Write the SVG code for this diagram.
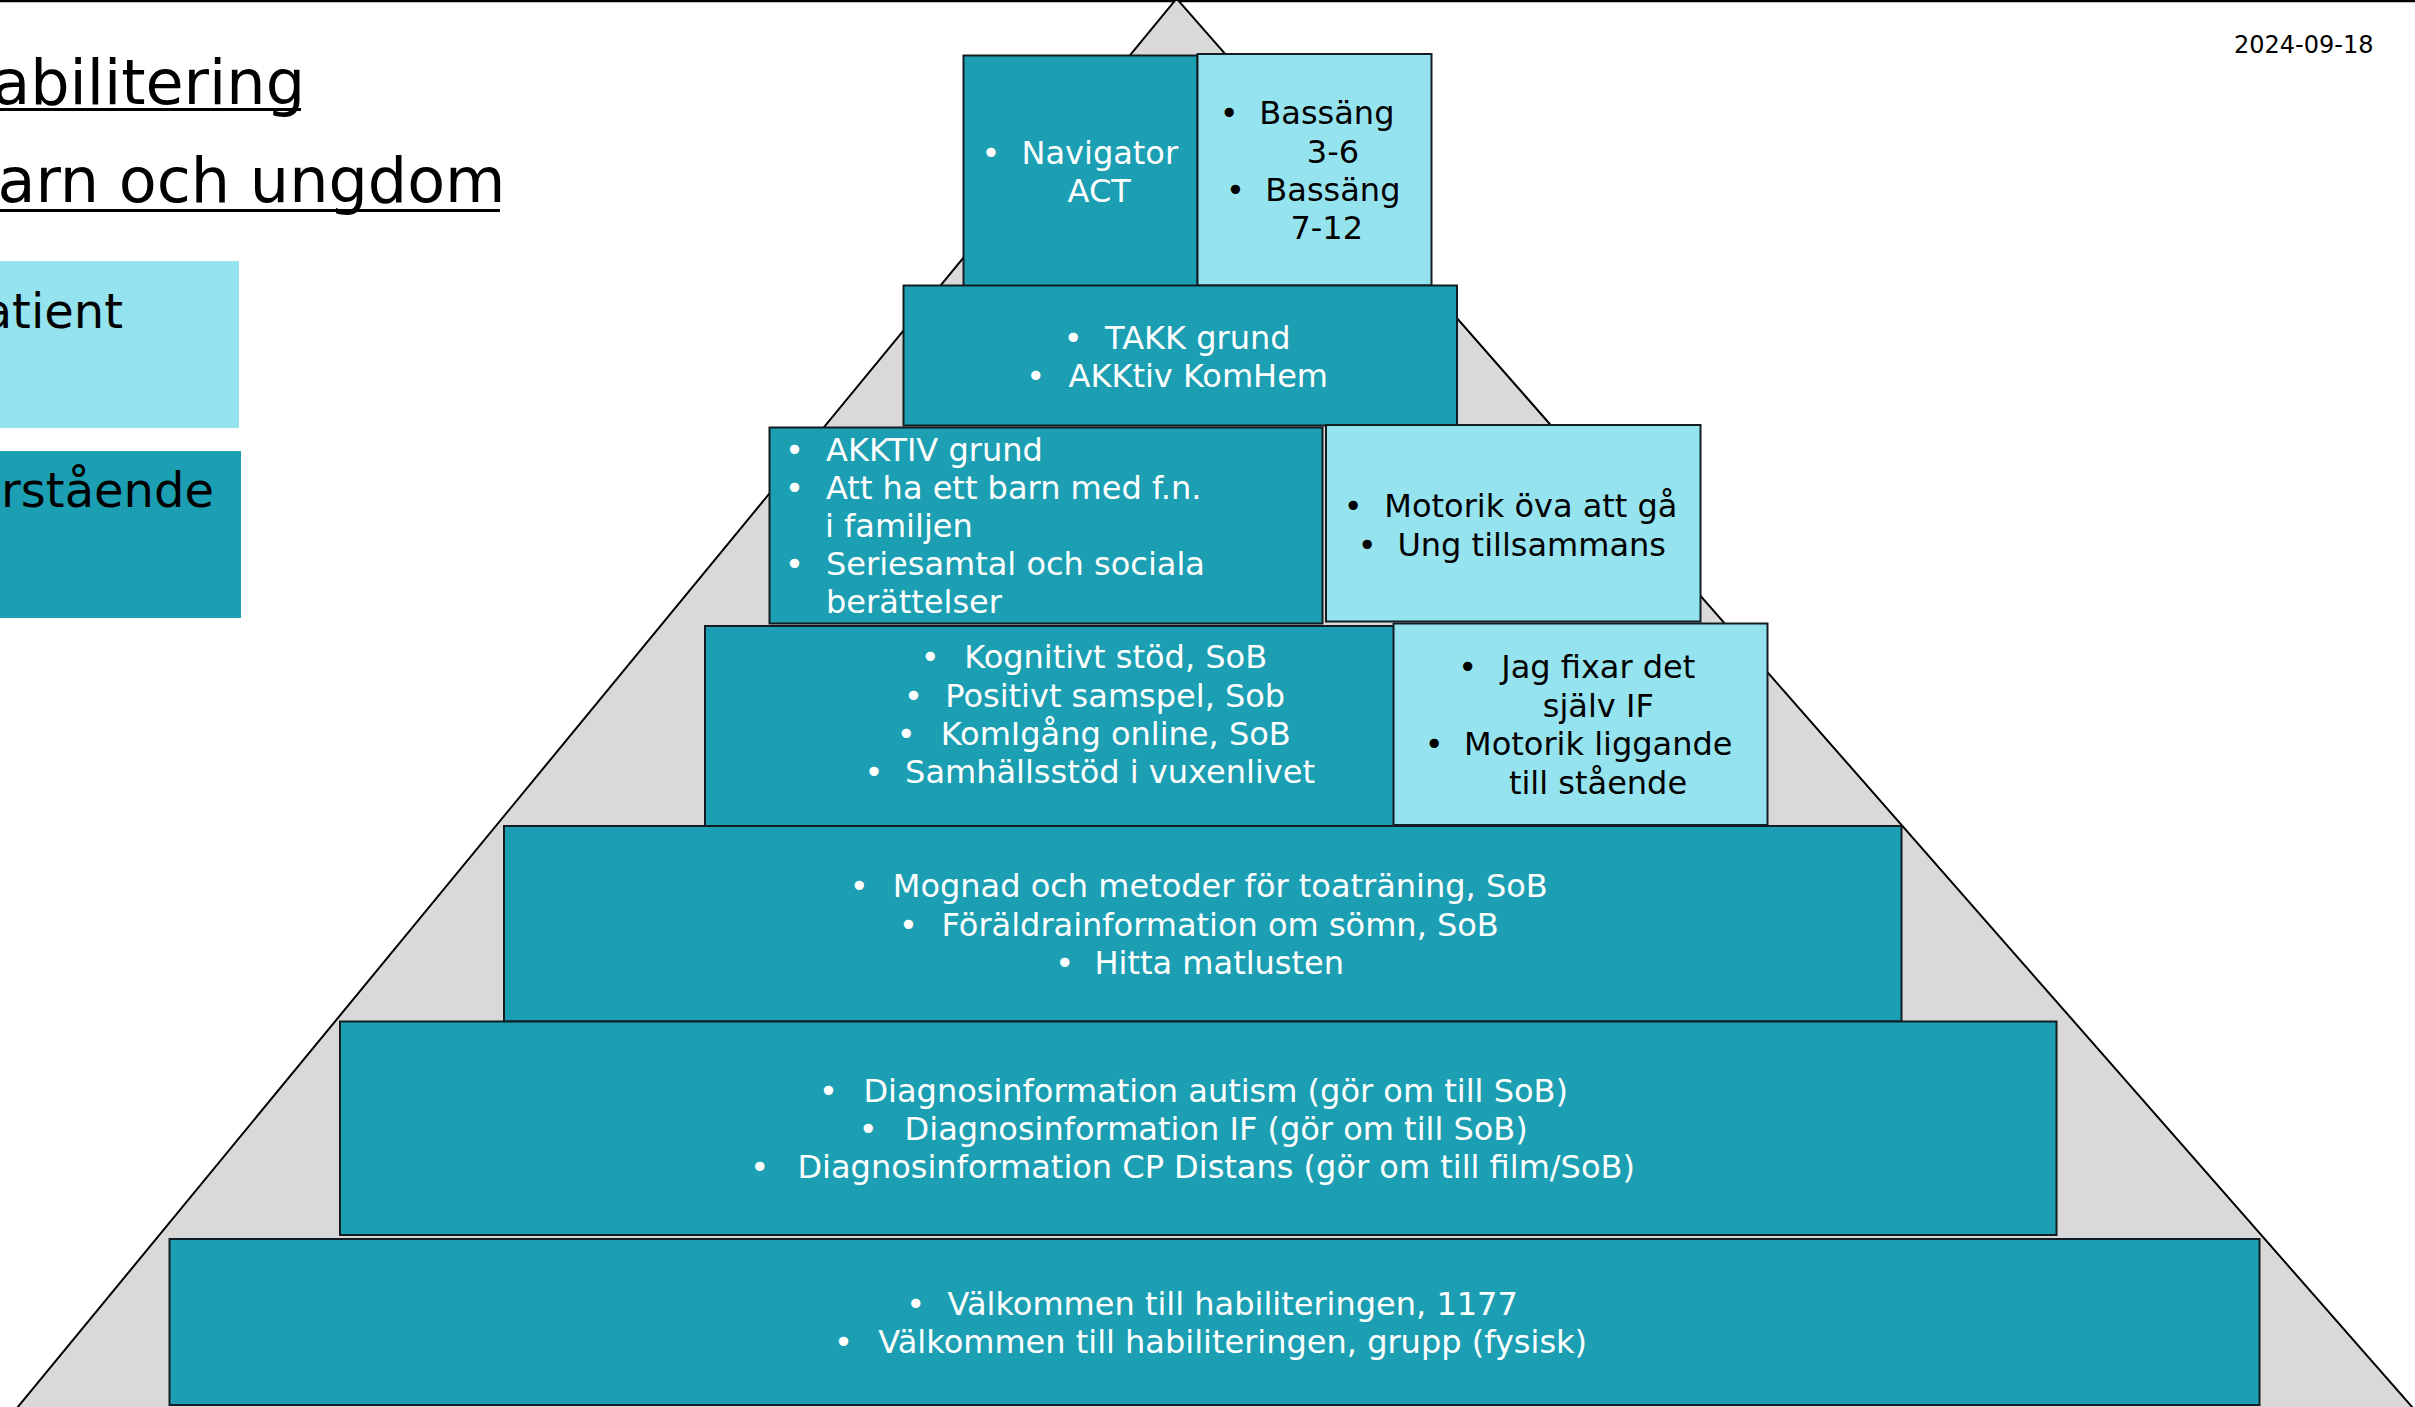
<svg xmlns="http://www.w3.org/2000/svg" width="2415" height="1407" viewBox="0 0 2415 1407">
<style>
.dark{fill:#1C9FB3;stroke:#121c22;stroke-width:2}
.light{fill:#95E3EE;stroke:#121c22;stroke-width:2}
text{font-family:"DejaVu Sans","Liberation Sans",sans-serif}
.w{font-size:32px;fill:#ffffff;text-anchor:middle}
.b{font-size:32px;fill:#000000;text-anchor:middle}
.wl{font-size:32px;fill:#ffffff;text-anchor:start}
.title{font-size:62px;fill:#000;text-anchor:end}
.leg{font-size:48px;fill:#000;text-anchor:end}
</style>
<rect x="0" y="0" width="2415" height="1407" fill="#ffffff"/>
<line x1="0" y1="1" x2="2415" y2="1" stroke="#000" stroke-width="2.5"/>

<g id="title">
<text class="title" x="305" y="103.5">abilitering</text>
<line x1="0" y1="109.5" x2="301" y2="109.5" stroke="#000" stroke-width="3"/>
<text class="title" x="505.5" y="201.7">arn och ungdom</text>
<line x1="0" y1="210.5" x2="500" y2="210.5" stroke="#000" stroke-width="3"/>
</g>

<g id="date">
<text x="2373.5" y="53.3" style="font-size:24px;fill:#000;text-anchor:end">2024-09-18</text>
</g>

<g id="legend-patient">
<rect x="0" y="261" width="239" height="167" fill="#95E3EE"/>
<text class="leg" x="123" y="327.7">atient</text>
</g>
<g id="legend-narstaende">
<rect x="0" y="451" width="241" height="167" fill="#1C9FB3"/>
<text class="leg" x="214" y="506.7">rstående</text>
</g>

<g id="pyramid">
<polygon points="1176.6,-1.4 17,1408 2413,1408" fill="#D9D9D9" stroke="#000" stroke-width="2"/>
</g>

<g id="connectors"></g>

<g id="box-navigator">
<rect class="dark" x="963.5" y="55.5" width="234" height="230.5"/>
<text class="w" x="991" y="164">•</text>
<text class="w" x="1099.8" y="164">Navigator</text>
<text class="w" x="1099.2" y="201.7">ACT</text>
</g>

<g id="box-bassang">
<rect class="light" x="1197.5" y="54" width="234" height="231.5"/>
<text class="b" x="1229.3" y="124">•</text>
<text class="b" x="1326.9" y="124">Bassäng</text>
<text class="b" x="1333" y="162.7">3-6</text>
<text class="b" x="1235.5" y="201">•</text>
<text class="b" x="1332.9" y="201">Bassäng</text>
<text class="b" x="1326.7" y="239.3">7-12</text>
</g>

<g id="box-takk">
<rect class="dark" x="903.5" y="285.5" width="553.5" height="140"/>
<text class="w" x="1073.3" y="349">•</text>
<text class="w" x="1197.8" y="349">TAKK grund</text>
<text class="w" x="1035.7" y="386.7">•</text>
<text class="w" x="1198.3" y="386.7">AKKtiv KomHem</text>
</g>

<g id="box-akktiv">
<rect class="dark" x="769.5" y="427.5" width="553" height="196"/>
<text class="w" x="794.4" y="460.7">•</text>
<text class="wl" x="826" y="460.7">AKKTIV grund</text>
<text class="w" x="794.4" y="499.3">•</text>
<text class="wl" x="826" y="499.3">Att ha ett barn med f.n.</text>
<text class="wl" x="825" y="537.3">i familjen</text>
<text class="w" x="794.4" y="575">•</text>
<text class="wl" x="826" y="575">Seriesamtal och sociala</text>
<text class="wl" x="826" y="613.3">berättelser</text>
</g>

<g id="box-motorik-ga">
<rect class="light" x="1326" y="425" width="374.5" height="196.5"/>
<text class="b" x="1353.3" y="516.7">•</text>
<text class="b" x="1530.9" y="516.7">Motorik öva att gå</text>
<text class="b" x="1367.3" y="555.7">•</text>
<text class="b" x="1531.7" y="555.7">Ung tillsammans</text>
</g>

<g id="box-kognitivt">
<rect class="dark" x="705" y="626" width="689" height="200"/>
<text class="w" x="930.2" y="668.3">•</text>
<text class="w" x="1115.7" y="668.3">Kognitivt stöd, SoB</text>
<text class="w" x="913.5" y="707.3">•</text>
<text class="w" x="1115.2" y="707.3">Positivt samspel, Sob</text>
<text class="w" x="906.1" y="745">•</text>
<text class="w" x="1115.7" y="745">KomIgång online, SoB</text>
<text class="w" x="874" y="783.3">•</text>
<text class="w" x="1110" y="783.3">Samhällsstöd i vuxenlivet</text>
</g>

<g id="box-jag-fixar">
<rect class="light" x="1393.5" y="623.5" width="374" height="201.5"/>
<text class="b" x="1467.7" y="678.3">•</text>
<text class="b" x="1598.3" y="678.3">Jag fixar det</text>
<text class="b" x="1598.3" y="716.7">själv IF</text>
<text class="b" x="1434.3" y="755">•</text>
<text class="b" x="1598.3" y="755">Motorik liggande</text>
<text class="b" x="1598" y="794">till stående</text>
</g>

<g id="box-mognad">
<rect class="dark" x="504" y="826" width="1397.5" height="195.5"/>
<text class="w" x="859.3" y="897.3">•</text>
<text class="w" x="1220.3" y="897.3">Mognad och metoder för toaträning, SoB</text>
<text class="w" x="908.4" y="936">•</text>
<text class="w" x="1220.2" y="936">Föräldrainformation om sömn, SoB</text>
<text class="w" x="1064.7" y="974.3">•</text>
<text class="w" x="1219.3" y="974.3">Hitta matlusten</text>
</g>

<g id="box-diagnos">
<rect class="dark" x="340" y="1021.5" width="1716.5" height="213.5"/>
<text class="w" x="828.5" y="1102.3">•</text>
<text class="w" x="1215.7" y="1102.3">Diagnosinformation autism (gör om till SoB)</text>
<text class="w" x="868.3" y="1140">•</text>
<text class="w" x="1216.2" y="1140">Diagnosinformation IF (gör om till SoB)</text>
<text class="w" x="759.7" y="1178.3">•</text>
<text class="w" x="1216.2" y="1178.3">Diagnosinformation CP Distans (gör om till film/SoB)</text>
</g>

<g id="box-valkommen">
<rect class="dark" x="169.5" y="1239" width="2090" height="166"/>
<text class="w" x="915.6" y="1315.3">•</text>
<text class="w" x="1232.7" y="1315.3">Välkommen till habiliteringen, 1177</text>
<text class="w" x="843.4" y="1353.3">•</text>
<text class="w" x="1232.7" y="1353.3">Välkommen till habiliteringen, grupp (fysisk)</text>
</g>
</svg>
